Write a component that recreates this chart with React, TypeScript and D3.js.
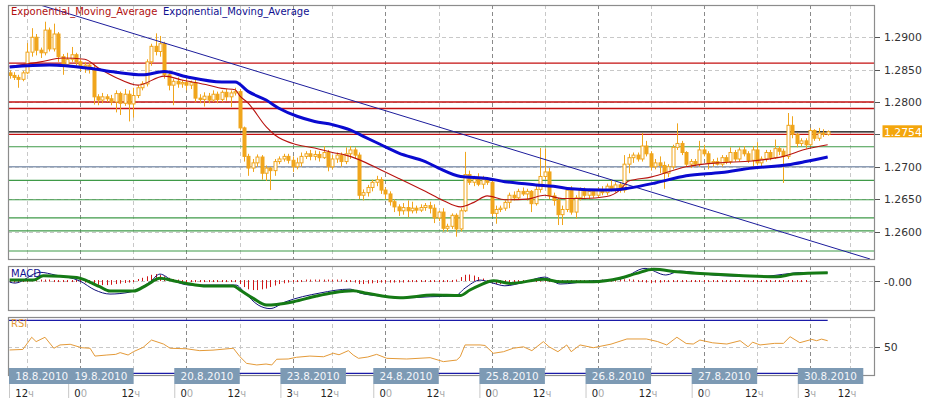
import React from "react";
import * as d3 from "d3";

// ---------- hourly candles (EUR/USD style), 18.8.2010 08h .. 30.8.2010 ----------
const opens = [
  1.2845,1.2841,1.2838,1.2835,1.2845,1.2877,1.2900,1.2880,1.2876,1.2911,
  1.2882,1.2905,1.2870,1.2858,1.2866,1.2873,1.2862,1.2855,1.2857,1.2851,
  1.2808,1.2803,1.2808,1.2805,1.2800,1.2813,1.2798,1.2812,1.2797,1.2810,
  1.2822,1.2828,1.2862,1.2886,1.2878,1.2890,1.2842,1.2826,1.2832,1.2828,
  1.2830,1.2826,1.2830,1.2806,1.2804,1.2809,1.2803,1.2812,1.2804,1.2815,
  1.2808,1.2814,1.2816,1.2760,1.2716,1.2698,1.2706,1.2715,1.2690,1.2698,
  1.2694,1.2708,1.2712,1.2716,1.2710,1.2700,1.2706,1.2716,1.2720,1.2716,
  1.2719,1.2714,1.2722,1.2700,1.2712,1.2718,1.2708,1.2720,1.2726,1.2718,
  1.2656,1.2660,1.2668,1.2676,1.2680,1.2664,1.2658,1.2646,1.2638,1.2632,
  1.2637,1.2632,1.2636,1.2633,1.2637,1.2640,1.2636,1.2621,1.2630,1.2605,
  1.2608,1.2625,1.2604,1.2632,1.2688,1.2676,1.2681,1.2673,1.2680,1.2676,
  1.2628,1.2634,1.2636,1.2645,1.2656,1.2652,1.2662,1.2658,1.2662,1.2643,
  1.2665,1.2685,1.2692,1.2655,1.2648,1.2626,1.2634,1.2664,1.2630,1.2652,
  1.2664,1.2656,1.2662,1.2656,1.2664,1.2660,1.2670,1.2665,1.2672,1.2664,
  1.2704,1.2714,1.2718,1.2712,1.2732,1.2720,1.2700,1.2706,1.2702,1.2690,
  1.2700,1.2730,1.2736,1.2722,1.2704,1.2708,1.2704,1.2726,1.2720,1.2706,
  1.2708,1.2704,1.2714,1.2708,1.2722,1.2712,1.2726,1.2720,1.2710,1.2726,
  1.2706,1.2712,1.2722,1.2714,1.2728,1.2724,1.2716,1.2764,1.2750,1.2736,
  1.2740,1.2734,1.2756,1.2744,1.2752,1.2750,
];
const highs = [
  1.2849,1.2846,1.2842,1.2848,1.2891,1.2914,1.2905,1.2884,1.2924,1.2915,
  1.2921,1.2908,1.2874,1.2876,1.2885,1.2876,1.2866,1.2862,1.2860,1.2858,
  1.2812,1.2814,1.2812,1.2811,1.2818,1.2816,1.2820,1.2818,1.2822,1.2826,
  1.2832,1.2866,1.2890,1.2906,1.2902,1.2893,1.2845,1.2836,1.2838,1.2834,
  1.2836,1.2833,1.2834,1.2812,1.2815,1.2814,1.2818,1.2816,1.2818,1.2820,
  1.2818,1.2822,1.2820,1.2762,1.2720,1.2712,1.2719,1.2718,1.2702,1.2700,
  1.2712,1.2716,1.2720,1.2720,1.2716,1.2714,1.2722,1.2724,1.2726,1.2725,
  1.2724,1.2732,1.2726,1.2718,1.2722,1.2722,1.2730,1.2732,1.2730,1.2722,
  1.2665,1.2672,1.2680,1.2686,1.2684,1.2668,1.2662,1.2650,1.2642,1.2644,
  1.2648,1.2646,1.2640,1.2642,1.2644,1.2646,1.2642,1.2632,1.2636,1.2612,
  1.2628,1.2628,1.2636,1.2723,1.2694,1.2686,1.2690,1.2686,1.2684,1.2678,
  1.2640,1.2640,1.2648,1.2660,1.2662,1.2666,1.2668,1.2666,1.2664,1.2672,
  1.2729,1.2728,1.2698,1.2660,1.2652,1.2640,1.2668,1.2670,1.2656,1.2668,
  1.2668,1.2666,1.2664,1.2668,1.2670,1.2674,1.2680,1.2676,1.2676,1.2718,
  1.2720,1.2722,1.2722,1.2752,1.2740,1.2724,1.2712,1.2716,1.2708,1.2704,
  1.2734,1.2767,1.2740,1.2724,1.2712,1.2712,1.2740,1.2734,1.2724,1.2712,
  1.2714,1.2718,1.2718,1.2730,1.2726,1.2730,1.2732,1.2724,1.2732,1.2738,
  1.2716,1.2726,1.2726,1.2742,1.2732,1.2728,1.2783,1.2778,1.2752,1.2744,
  1.2744,1.2760,1.2758,1.2760,1.2758,1.2756,
];
const lows = [
  1.2836,1.2834,1.2822,1.2832,1.2843,1.2870,1.2872,1.2868,1.2872,1.2878,
  1.2878,1.2862,1.2842,1.2854,1.2862,1.2856,1.2848,1.2845,1.2844,1.2796,
  1.2795,1.2798,1.2800,1.2795,1.2784,1.2780,1.2794,1.2770,1.2776,1.2806,
  1.2818,1.2824,1.2856,1.2872,1.2870,1.2836,1.2818,1.2795,1.2822,1.2822,
  1.2818,1.2820,1.2800,1.2798,1.2793,1.2798,1.2800,1.2798,1.2800,1.2802,
  1.2792,1.2810,1.2756,1.2708,1.2686,1.2692,1.2700,1.2680,1.2678,1.2664,
  1.2686,1.2704,1.2708,1.2705,1.2692,1.2696,1.2700,1.2712,1.2710,1.2710,
  1.2708,1.2712,1.2693,1.2696,1.2706,1.2700,1.2704,1.2712,1.2712,1.2650,
  1.2648,1.2654,1.2662,1.2670,1.2658,1.2650,1.2640,1.2630,1.2624,1.2626,
  1.2622,1.2628,1.2628,1.2630,1.2632,1.2628,1.2613,1.2616,1.2600,1.2600,
  1.2604,1.2592,1.2600,1.2630,1.2672,1.2670,1.2670,1.2666,1.2672,1.2624,
  1.2612,1.2630,1.2632,1.2636,1.2648,1.2650,1.2655,1.2648,1.2630,1.2640,
  1.2660,1.2680,1.2650,1.2640,1.2610,1.2610,1.2630,1.2626,1.2620,1.2648,
  1.2652,1.2650,1.2652,1.2652,1.2656,1.2656,1.2662,1.2660,1.2660,1.2660,
  1.2690,1.2706,1.2708,1.2708,1.2716,1.2694,1.2696,1.2690,1.2666,1.2684,
  1.2696,1.2726,1.2718,1.2700,1.2698,1.2700,1.2700,1.2716,1.2696,1.2700,
  1.2702,1.2700,1.2704,1.2704,1.2708,1.2708,1.2716,1.2706,1.2698,1.2702,
  1.2700,1.2708,1.2710,1.2712,1.2718,1.2675,1.2712,1.2744,1.2730,1.2732,
  1.2728,1.2732,1.2740,1.2740,1.2746,1.2748,
];
const closes = [
  1.2841,1.2838,1.2835,1.2845,1.2877,1.2900,1.2880,1.2876,1.2911,1.2882,
  1.2905,1.2870,1.2858,1.2866,1.2873,1.2862,1.2855,1.2857,1.2851,1.2808,
  1.2803,1.2808,1.2805,1.2800,1.2813,1.2798,1.2812,1.2797,1.2810,1.2822,
  1.2828,1.2862,1.2886,1.2878,1.2890,1.2842,1.2826,1.2832,1.2828,1.2830,
  1.2826,1.2830,1.2806,1.2804,1.2809,1.2803,1.2812,1.2804,1.2815,1.2808,
  1.2814,1.2816,1.2760,1.2716,1.2698,1.2706,1.2715,1.2690,1.2698,1.2694,
  1.2708,1.2712,1.2716,1.2710,1.2700,1.2706,1.2716,1.2720,1.2716,1.2719,
  1.2714,1.2722,1.2700,1.2712,1.2718,1.2708,1.2720,1.2726,1.2718,1.2656,
  1.2660,1.2668,1.2676,1.2680,1.2664,1.2658,1.2646,1.2638,1.2632,1.2637,
  1.2632,1.2636,1.2633,1.2637,1.2640,1.2636,1.2621,1.2630,1.2605,1.2608,
  1.2625,1.2604,1.2632,1.2688,1.2676,1.2681,1.2673,1.2680,1.2676,1.2628,
  1.2634,1.2636,1.2645,1.2656,1.2652,1.2662,1.2658,1.2662,1.2643,1.2665,
  1.2685,1.2692,1.2655,1.2648,1.2626,1.2634,1.2664,1.2630,1.2652,1.2664,
  1.2656,1.2662,1.2656,1.2664,1.2660,1.2670,1.2665,1.2672,1.2664,1.2704,
  1.2714,1.2718,1.2712,1.2732,1.2720,1.2700,1.2706,1.2702,1.2690,1.2700,
  1.2730,1.2736,1.2722,1.2704,1.2708,1.2704,1.2726,1.2720,1.2706,1.2708,
  1.2704,1.2714,1.2708,1.2722,1.2712,1.2726,1.2720,1.2710,1.2726,1.2706,
  1.2712,1.2722,1.2714,1.2728,1.2724,1.2716,1.2764,1.2750,1.2736,1.2740,
  1.2734,1.2756,1.2744,1.2752,1.2750,1.2754,
];

// ---------- moving averages: [candle index, price] ----------
const emaFast: [number, number][] = [
  [0,1.2855],[7,1.2862],[12,1.2868],[17,1.2866],[20,1.2853],[24,1.2838],[29,1.2826],
  [35,1.2840],[39,1.2834],[45,1.2826],[48,1.2821],[51,1.2819],[52,1.2810],[54,1.2798],
  [58,1.2762],[60,1.2749],[65,1.2734],[69,1.2729],[73,1.2722],[76,1.2718],[79,1.2711],
  [84,1.2695],[88,1.2682],[94,1.2662],[98,1.2648],[102,1.2638],[105,1.2645],[108,1.2655],
  [112,1.2649],[117,1.2650],[121,1.2656],[125,1.2651],[130,1.2651],[135,1.2654],[138,1.2664],
  [140,1.2678],[145,1.2684],[153,1.2700],[160,1.2706],[168,1.2709],[175,1.2716],[180,1.2727],
  [185,1.2734],
];
const emaSlow: [number, number][] = [
  [0,1.2854],[9,1.2857],[18,1.2852],[24,1.2846],[30,1.2842],[35,1.2847],[40,1.2839],
  [48,1.2831],[51,1.2831],[54,1.2816],[58,1.2803],[61,1.2790],[65,1.2778],[69,1.2770],
  [73,1.2765],[77,1.2757],[80,1.2747],[84,1.2734],[88,1.2721],[94,1.2708],[97,1.2698],
  [102,1.2685],[108,1.2682],[112,1.2677],[119,1.2672],[123,1.2670],[127,1.2666],[134,1.2664],
  [138,1.2665],[140,1.2667],[146,1.2675],[153,1.2686],[161,1.2691],[168,1.2698],[176,1.2703],
  [180,1.2708],[185,1.2715],
];
// straight trend line: two anchor points [candle index, price]
const trendLine: [number, number][] = [[7.1, 1.29494], [194.6, 1.25575]];

// horizontal levels
const redLevels = [1.2860, 1.2800, 1.2790, 1.2750];
const greenLevels = [1.2731, 1.2679, 1.2649, 1.2621, 1.2601, 1.2570];
const greyLevels = [1.2700];
const lastPrice = 1.2754;
const priceTicks = [1.26, 1.265, 1.27, 1.275, 1.28, 1.285, 1.29];

// ---------- MACD ----------
const macdMain: [number, number][] = [
  [0,-0.0001],[1.2,-0.00017],[6.9,0.00055],[10.3,0.00037],[15.9,-0.00003],[19.3,-0.00063],
  [22.7,-0.0009],[27.2,-0.00077],[31.7,-0.0001],[34,0.00043],[36.7,0.00003],[40.8,-0.0003],
  [51.2,-0.0003],[53.2,-0.00083],[56.2,-0.00163],[58.9,-0.00187],[62.3,-0.00143],[70.2,-0.00083],
  [77,-0.00057],[79.2,-0.00083],[83.8,-0.00103],[88.3,-0.00117],[95.1,-0.00108],[100.7,-0.00103],
  [103,-0.0005],[106.4,0.00003],[109.3,-0.00017],[112,-0.00035],[116.5,-0.0001],[121,0.00023],
  [124.5,-0.00023],[131.3,-0.00003],[138,0.0001],[143.7,0.00081],[148.4,0.00037],[151.6,0.00063],
  [160.6,0.00033],[169.7,0.00027],[176.5,0.00047],[178.7,0.00053],[185,0.00052],
];
const macdSignal: [number, number][] = [
  [0,0.00003],[5.4,0.00003],[7.6,0.00032],[15.2,0.00021],[17.4,-0.00001],[20.4,-0.00041],
  [22.7,-0.0007],[28,-0.0007],[31,-0.0003],[34,0.00015],[37,-0.00001],[40,-0.00019],
  [44.6,-0.00037],[50.6,-0.00037],[52.1,-0.00063],[55.1,-0.00119],[58.1,-0.00163],[60.4,-0.00159],
  [64.2,-0.00141],[69.4,-0.00103],[73.2,-0.00081],[77.7,-0.00068],[80.8,-0.00085],[88.3,-0.00115],
  [95.8,-0.00097],[101.9,-0.001],[104.1,-0.00063],[106.4,-0.0003],[109.4,-0.00001],[113.2,-0.00019],
  [120.7,0.00008],[124.5,-0.00008],[132,-0.00008],[138,0.00015],[141.8,0.00048],[145.6,0.00075],
  [150.9,0.00059],[158.4,0.00043],[165.9,0.00032],[173.5,0.00025],[177.2,0.00043],[185,0.00052],
];
const macdHist = [
  -0.00005,-0.0001,-0.0001,-0.00005,0,0.00005,0.00005,0.00003,
  0.00003,0.00003,0,0,-0.00003,-0.00003,-0.00005,-0.00005,-0.00005,-0.0001,
  -0.00015,-0.0002,-0.00025,-0.00027,-0.00027,-0.00025,-0.0002,-0.00017,-0.00013,-0.0001,-0.00007,
  0.00007,0.00015,0.00025,0.00035,0.0004,0.00033,0.00025,
  0.00015,0.00007,0.00003,0,-0.00003,-0.00005,-0.00007,-0.00007,-0.00005,-0.00005,-0.00003,-0.00003,-0.00003,-0.00003,-0.00005,-0.00007,
  -0.0002,-0.0004,-0.00055,-0.0006,-0.0006,-0.00055,-0.0005,-0.0004,-0.0003,
  -0.0002,-0.00015,-0.0001,-0.00007,-0.00003,0,0.00003,0.00003,0.00003,0.00003,0.00003,0.00003,0.00003,0.00003,0.00003,0,
  -0.00003,-0.0001,-0.0002,-0.0002,-0.00017,-0.00015,-0.00013,-0.0001,-0.0001,-0.0001,-0.0001,
  -0.0001,-0.0001,-0.00007,-0.00007,-0.00007,-0.00005,-0.00005,-0.00003,-0.00003,-0.00003,-0.00003,-0.00003,0,0.00003,
  0.0002,0.00035,0.00037,0.0003,0.0002,0.0001,0,
  -0.0001,-0.0002,-0.0002,-0.00017,-0.00013,-0.0001,-0.00007,-0.00007,-0.00005,-0.00003,0,0.00003,0.00003,-0.00005,-0.00007,-0.00007,
  -0.00005,-0.00005,-0.00003,-0.00003,0,0,0,0,0,0.00003,0.00003,0.00003,0.00003,0.00005,0.00005,0.00005,0.00003,0,-0.00003,-0.0001,-0.00013,-0.0001,
  -0.0001,-0.00007,-0.00005,-0.00005,-0.00003,-0.00003,-0.00003,-0.00003,-0.00003,-0.00005,-0.00005,-0.00005,-0.00005,
  -0.00003,-0.00003,-0.00003,-0.00003,-0.00003,-0.00003,-0.00003,-0.00003,-0.00003,-0.00003,-0.00003,-0.00003,-0.00003,-0.00003,-0.00003,-0.00003,
  0,0,0,-0.00003,-0.00003,
];

// ---------- RSI ----------
const rsi: [number, number][] = [
  [0,47.6],[3,48],[5,57.2],[6,53.9],[8,57.2],[10,48.9],[11.4,51.4],[13.7,51.9],[16.3,49.3],
  [18.2,48.9],[19.3,43],[22,43.8],[24,44.3],[25,45.6],[26.8,43.8],[28,46.3],[30.2,49.6],
  [32.1,55.1],[34.8,52.1],[36.3,48.9],[40,48.5],[43,47.1],[46,47.5],[50.6,48.9],[52.1,42.5],
  [53.6,37.5],[55.9,36.3],[58,37],[59.3,36.3],[60.4,40.6],[63,40.8],[64.9,42.1],[67.9,43],
  [71,42.5],[73.2,45.1],[74.5,44],[76.6,47.1],[77.7,43.8],[78.9,41.3],[81,42.3],[83,44.3],
  [85.3,41.3],[89.8,40.8],[95.1,41.8],[98.1,38.8],[101.1,40],[101.9,42.5],[103,51.4],
  [106.4,51.4],[107.5,51],[109.4,45.1],[111.7,46.3],[113.9,48.9],[116.2,50],[118.1,47.1],
  [120.7,53.9],[122,50],[124,46.3],[126,51.4],[127,46.3],[129,51.4],[132,49.3],[136,52],
  [139.6,55.9],[144,55.9],[146.5,54],[148.6,51.4],[150.9,57.2],[153,52.5],[154.6,52.1],
  [156.1,55.1],[159,53],[162.2,52.1],[165.2,54.6],[167,50],[168,53.5],[169.7,51.4],[173,52.6],
  [175,52.6],[176.5,57.6],[178.7,53.1],[181.4,55.6],[182.5,54.6],[183.6,55.8],[185,54.6],
];
const rsiLevels = [70, 30];

// ---------- time axis ----------
const gridIdx = [4, 16, 28, 40, 52, 64, 73, 85, 97, 109, 121, 133, 145, 157, 169, 181, 190];
const gridHour = ["12", "00", "12", "00", "12", "3", "12", "00", "12", "00", "12", "00", "12", "00", "12", "3", "12"];
const dayIdx = [0, 16, 40, 64, 85, 109, 133, 157, 181];
const dayText = ["18.8.2010", "19.8.2010", "20.8.2010", "23.8.2010", "24.8.2010", "25.8.2010", "26.8.2010", "27.8.2010", "30.8.2010"];

const FONT = "'DejaVu Sans', Verdana, sans-serif";

export default function App() {
  const W = 929, H = 402;
  const L = 8, R = 875;
  const mT = 5, mB = 260;
  const aT = 266, aB = 311;
  const rT = 317, rB = 376;

  const x = d3.scaleLinear().domain([-0.36, 195.7]).range([L, R]);
  const y = d3.scaleLinear().domain([1.2556, 1.29498]).range([mB, mT]);
  const ym = d3.scaleLinear().domain([-0.00203, 0.00097]).range([aB, aT]);
  const yr = d3.scaleLinear().domain([30, 70]).range([373.3, 320.3]);

  const priceLine = d3.line<[number, number]>().x(d => x(d[0])).y(d => y(d[1])).curve(d3.curveMonotoneX);
  const macdLine = d3.line<[number, number]>().x(d => x(d[0])).y(d => ym(d[1])).curve(d3.curveMonotoneX);
  const rsiLine = d3.line<[number, number]>().x(d => x(d[0])).y(d => yr(d[1]));
  const straight = d3.line<[number, number]>().x(d => x(d[0])).y(d => y(d[1]));

  const candleColor = "#f0a51c";
  const isDay = (k: number) => gridHour[k] !== "12";

  const vGrid = (top: number, bot: number, key: string) =>
    gridIdx.map((g, k) => (
      <line key={key + k} x1={Math.round(x(g)) + 0.5} x2={Math.round(x(g)) + 0.5} y1={top} y2={bot}
        stroke={isDay(k) ? "#8a8a8a" : "#c8c8c8"} strokeDasharray="4,3" />
    ));

  // tick labels hidden under the last-price box are not drawn (as in the reference)
  const visibleTick = (t: number) => Math.abs(y(t) - y(lastPrice)) > 9;

  return (
    <svg width={W} height={H} style={{ position: "absolute", left: 0, top: 0, background: "#fff" }} fontFamily={FONT}>
      <defs>
        <clipPath id="cMain"><rect x={L} y={mT} width={R - L} height={mB - mT} /></clipPath>
        <clipPath id="cMacd"><rect x={L} y={aT} width={R - L} height={aB - aT} /></clipPath>
        <clipPath id="cRsi"><rect x={L} y={rT} width={R - L} height={rB - rT} /></clipPath>
      </defs>
      <rect x={0} y={0} width={W} height={H} fill="#fff" />

      {/* ---------- main price panel ---------- */}
      <g clipPath="url(#cMain)">
        {priceTicks.map((t, k) => (
          <line key={"hg" + k} x1={L} x2={R} y1={Math.round(y(t)) + 0.5} y2={Math.round(y(t)) + 0.5}
            stroke="#c8c8c8" strokeDasharray="4,3" />
        ))}
        {vGrid(mT, mB, "vm")}
        {greenLevels.map((v, k) => (
          <line key={"gl" + k} x1={L} x2={R} y1={y(v)} y2={y(v)} stroke="#3f9a48" strokeWidth={1.1} />
        ))}
        {greyLevels.map((v, k) => (
          <line key={"sl" + k} x1={L} x2={R} y1={y(v)} y2={y(v)} stroke="#8d9db5" strokeWidth={1.3} />
        ))}
        {redLevels.map((v, k) => (
          <line key={"rl" + k} x1={L} x2={R} y1={y(v)} y2={y(v)} stroke="#c41010" strokeWidth={1.3} />
        ))}
        <line x1={L} x2={R} y1={y(lastPrice)} y2={y(lastPrice)} stroke="#000" strokeWidth={1.2} />

        {opens.map((o, i) => {
          const c = closes[i];
          const cx = Math.round(x(i)) + 0.5;
          const top = y(Math.max(o, c));
          const bot = y(Math.min(o, c));
          const up = c >= o;
          return (
            <g key={"c" + i}>
              <line x1={cx} x2={cx} y1={y(highs[i])} y2={y(lows[i])} stroke={candleColor} strokeWidth={1} />
              <rect x={cx - 1.5} y={top} width={3} height={Math.max(1, bot - top)}
                fill={up ? "#fff" : candleColor} stroke={candleColor} strokeWidth={1} />
            </g>
          );
        })}

        <path d={straight(trendLine) || ""} fill="none" stroke="#1c1c9c" strokeWidth={1} />
        <path d={priceLine(emaFast) || ""} fill="none" stroke="#b8120e" strokeWidth={1.1} />
        <path d={priceLine(emaSlow) || ""} fill="none" stroke="#0a0ad0" strokeWidth={3} />
      </g>
      <rect x={L + 0.5} y={mT + 0.5} width={R - L - 1} height={mB - mT - 1} fill="none" stroke="#8c8c8c" strokeWidth={1.2} />
      <text x={11} y={15} fontSize={10} fill="#b01010">Exponential_Moving_Average</text>
      <text x={163} y={15} fontSize={10} fill="#101090">Exponential_Moving_Average</text>

      {priceTicks.map((t, k) => (
        <g key={"pt" + k}>
          <line x1={R} x2={R + 5} y1={Math.round(y(t)) + 0.5} y2={Math.round(y(t)) + 0.5} stroke="#555" />
          {visibleTick(t) && <text x={884} y={y(t) + 4} fontSize={10.8} fill="#333">{t.toFixed(4)}</text>}
        </g>
      ))}
      <rect x={882.5} y={y(lastPrice) - 6.5} width={39.5} height={12} fill="#f4a60c" />
      <text x={884} y={y(lastPrice) + 4} fontSize={10.8} fill="#fff">{lastPrice.toFixed(4)}</text>

      {/* ---------- MACD panel ---------- */}
      <g clipPath="url(#cMacd)">
        {vGrid(aT, aB, "va")}
        <line x1={L} x2={R} y1={Math.round(ym(0)) + 0.5} y2={Math.round(ym(0)) + 0.5} stroke="#c8c8c8" strokeDasharray="4,3" />
        {macdHist.map((h, i) => {
          const cx = Math.round(x(i)) + 0.5;
          const y0 = ym(0);
          const y1 = ym(h);
          const lo = Math.min(y0, y1), hi = Math.max(y0, y1);
          return <line key={"h" + i} x1={cx} x2={cx} y1={lo - 0.5} y2={Math.max(hi, lo + 1) + 0.5} stroke="#d01818" strokeWidth={1} />;
        })}
        <path d={macdLine(macdMain) || ""} fill="none" stroke="#10107a" strokeWidth={1} />
        <path d={macdLine(macdSignal) || ""} fill="none" stroke="#157a15" strokeWidth={3} />
      </g>
      <rect x={L + 0.5} y={aT + 0.5} width={R - L - 1} height={aB - aT - 1} fill="none" stroke="#8c8c8c" strokeWidth={1.2} />
      <text x={11} y={276.5} fontSize={10} fill="#101090">MACD</text>
      <line x1={R} x2={R + 5} y1={Math.round(ym(0)) + 0.5} y2={Math.round(ym(0)) + 0.5} stroke="#555" />
      <text x={884} y={ym(0) + 5.5} fontSize={10.8} fill="#333">-0.00</text>

      {/* ---------- RSI panel ---------- */}
      <g clipPath="url(#cRsi)">
        {vGrid(rT, rB, "vr")}
        <line x1={L} x2={R} y1={Math.round(yr(50)) + 0.5} y2={Math.round(yr(50)) + 0.5} stroke="#c8c8c8" strokeDasharray="4,3" />
        {rsiLevels.map((v, k) => (
          <line key={"rs" + k} x1={L} x2={x(185)} y1={yr(v)} y2={yr(v)} stroke="#1a1aa8" strokeWidth={1.2} />
        ))}
        <path d={rsiLine(rsi) || ""} fill="none" stroke="#e49a38" strokeWidth={1} />
      </g>
      <rect x={L + 0.5} y={rT + 0.5} width={R - L - 1} height={rB - rT - 1} fill="none" stroke="#8c8c8c" strokeWidth={1.2} />
      <text x={11} y={327} fontSize={10} fill="#e49a38">RSI</text>
      <line x1={R} x2={R + 5} y1={Math.round(yr(50)) + 0.5} y2={Math.round(yr(50)) + 0.5} stroke="#555" />
      <text x={884} y={yr(50) + 4.5} fontSize={10.8} fill="#333">50</text>

      {/* ---------- time axis ---------- */}
      {dayIdx.map((d, k) => {
        const bx = Math.max(9, x(d) - 12.2);
        return (
          <g key={"d" + k}>
            <rect x={bx} y={368} width={65.5} height={16} fill="#7d9ab4" />
            <line x1={bx + 0.5} x2={bx + 0.5} y1={384} y2={398} stroke="#c8c8c8" />
            <text x={bx + 32.75} y={380} fontSize={10.4} fill="#f4f6fa" textAnchor="middle">{dayText[k]}</text>
          </g>
        );
      })}
      {gridIdx.map((g, k) => {
        const h = gridHour[k];
        const gx = x(g);
        if (h === "00") {
          return (
            <text key={"hl" + k} x={gx - 6} y={397} fontSize={10} fill="#222">0<tspan fill="#aaa">0</tspan></text>
          );
        }
        return (
          <text key={"hl" + k} x={h === "12" ? gx - 12 : gx - 6} y={397} fontSize={10} fill="#222">
            {h}<tspan fill="#aaa">ч</tspan>
          </text>
        );
      })}
    </svg>
  );
}
